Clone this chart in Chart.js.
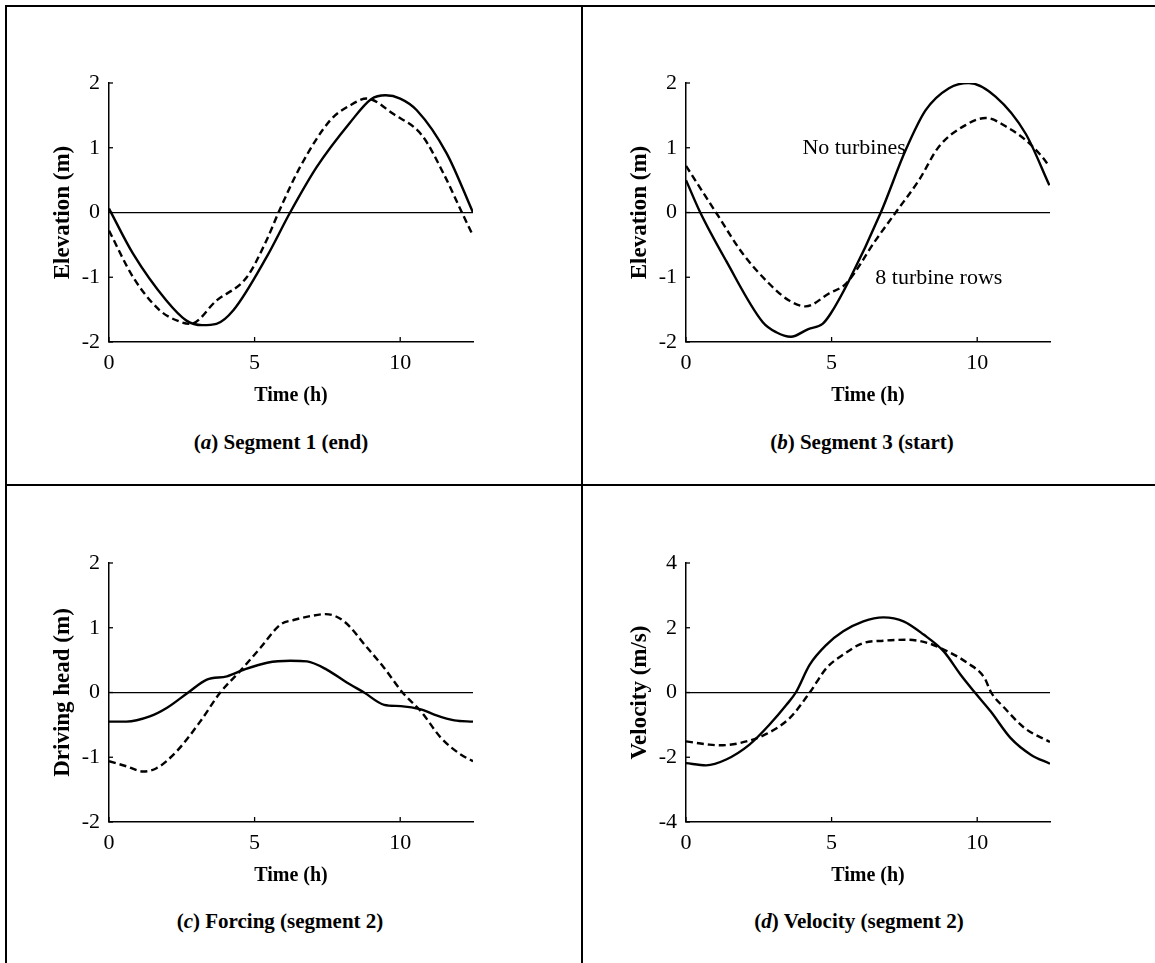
<!DOCTYPE html>
<html>
<head>
<meta charset="utf-8">
<title>Tidal elevation, forcing and velocity</title>
<script src="https://cdn.jsdelivr.net/npm/chart.js@4.4.1/dist/chart.umd.min.js"></script>
<style>
  html, body { margin: 0; padding: 0; background: #fff; }
  body { width: 1155px; height: 963px; position: relative; overflow: hidden; font-family: "Liberation Serif", "Times New Roman", serif; }
  .rule { position: absolute; background: #000; }
  .panel { position: absolute; }
  .cap { position: absolute; transform: translate(-50%, -50%); font: bold 21px "Liberation Serif", "Times New Roman", serif; white-space: nowrap; line-height: 1; color: #000; }
</style>
</head>
<body>
<!-- frame and panel dividers -->
<div class="rule" style="left:5px; top:5px; width:1150px; height:2px;"></div>
<div class="rule" style="left:5px; top:5px; width:2px; height:958px;"></div>
<div class="rule" style="left:581px; top:5px; width:2px; height:958px;"></div>
<div class="rule" style="left:5px; top:484px; width:1150px; height:2px;"></div>

<div class="panel" style="left:10px; top:40px;"><canvas id="chartA" width="490" height="368"></canvas></div>
<div class="panel" style="left:587px; top:40px;"><canvas id="chartB" width="490" height="368"></canvas></div>
<div class="panel" style="left:10px; top:520px;"><canvas id="chartC" width="490" height="368"></canvas></div>
<div class="panel" style="left:587px; top:520px;"><canvas id="chartD" width="490" height="368"></canvas></div>

<div class="cap" style="left:281px; top:442px;">(<i>a</i>) Segment 1 (end)</div>
<div class="cap" style="left:862px; top:442px;">(<i>b</i>) Segment 3 (start)</div>
<div class="cap" style="left:280px; top:921px;">(<i>c</i>) Forcing (segment 2)</div>
<div class="cap" style="left:859px; top:921px;">(<i>d</i>) Velocity (segment 2)</div>

<script>
// Axis ticks
const timeTicks = [0, 5, 10];
const elevTicks = [-2, -1, 0, 1, 2];
const velTicks = [-4, -2, 0, 2, 4];

// (a) Segment 1 (end): elevation, no turbines (solid) and 8 turbine rows (dashed)
const aSolidT = [0, 0.83, 1.97, 2.66, 3.2, 3.69, 4.27, 5.41, 6.22, 7.13, 8.28, 9.0, 9.5, 10.0, 10.57, 11.6, 12.5];
const aSolid  = [0.06, -0.64, -1.36, -1.67, -1.74, -1.72, -1.51, -0.69, 0, 0.70, 1.39, 1.75, 1.81, 1.76, 1.58, 0.91, 0];
const aDashT  = [0, 0.83, 1.74, 2.4, 2.8, 3.69, 4.73, 5.41, 5.82, 6.56, 7.59, 8.3, 8.85, 9.77, 10.75, 11.49, 12.12, 12.5];
const aDash   = [-0.28, -1.0, -1.51, -1.68, -1.72, -1.36, -1.0, -0.43, 0, 0.70, 1.42, 1.66, 1.76, 1.52, 1.19, 0.60, 0, -0.36];

// (b) Segment 3 (start): elevation
const bSolidT = [0, 0.49, 1.37, 2.63, 3.1, 3.6, 4.2, 4.69, 4.97, 5.6, 6.69, 7.54, 8.23, 9.03, 9.71, 10.63, 11.66, 12.48];
const bSolid  = [0.50, 0, -0.74, -1.69, -1.85, -1.92, -1.80, -1.72, -1.56, -1.05, 0, 0.96, 1.58, 1.92, 2.0, 1.79, 1.22, 0.42];
const bDashT  = [0, 1.03, 1.94, 2.86, 3.54, 4.11, 4.91, 5.49, 6.51, 7.2, 8.0, 8.69, 9.6, 10.29, 11.09, 11.66, 12.23, 12.48];
const bDash   = [0.72, 0, -0.63, -1.10, -1.36, -1.45, -1.25, -1.10, -0.43, 0, 0.50, 1.02, 1.35, 1.46, 1.30, 1.12, 0.86, 0.71];

// (c) Forcing (segment 2): driving head
const cSolidT = [0, 0.6, 1.4, 1.98, 2.72, 3.36, 4.05, 4.62, 5.43, 6.23, 6.8, 7.49, 8.18, 8.76, 9.45, 10.02, 10.71, 11.17, 11.86, 12.5];
const cSolid  = [-0.45, -0.45, -0.37, -0.24, 0, 0.20, 0.25, 0.35, 0.46, 0.49, 0.48, 0.35, 0.15, 0, -0.19, -0.21, -0.26, -0.34, -0.43, -0.45];
const cDashT  = [0, 0.6, 1.17, 1.63, 2.32, 3.13, 3.82, 4.5, 5.2, 5.89, 6.34, 6.92, 7.44, 8.07, 8.87, 9.45, 10.08, 10.71, 11.4, 12.09, 12.5];
const cDash   = [-1.06, -1.14, -1.22, -1.17, -0.91, -0.45, 0, 0.33, 0.69, 1.05, 1.12, 1.18, 1.21, 1.10, 0.69, 0.38, 0, -0.29, -0.70, -0.96, -1.06];

// (d) Velocity (segment 2)
const dSolidT = [0, 0.69, 1.38, 2.18, 2.87, 3.45, 3.77, 4.25, 4.83, 5.4, 6.09, 6.78, 7.47, 8.16, 8.85, 9.43, 9.92, 10.46, 11.15, 11.84, 12.5];
const dSolid  = [-2.18, -2.25, -2.07, -1.61, -0.99, -0.38, 0, 0.86, 1.48, 1.89, 2.20, 2.32, 2.20, 1.79, 1.27, 0.55, 0, -0.58, -1.41, -1.92, -2.20];
const dDashT  = [0, 0.8, 1.15, 1.86, 2.76, 3.56, 4.25, 4.83, 5.4, 6.09, 6.78, 7.59, 8.3, 8.87, 9.67, 10.25, 10.48, 10.94, 11.63, 12.5];
const dDash   = [-1.51, -1.61, -1.63, -1.56, -1.28, -0.79, 0, 0.76, 1.17, 1.53, 1.60, 1.63, 1.53, 1.32, 0.91, 0.45, 0, -0.48, -1.10, -1.53];

// Curve labels in panel (b): [text, time, value]
const bNotes = [["No turbines", 4.0, 1.0], ["8 turbine rows", 6.5, -1.02]];

const SERIF = '"Liberation Serif", "Times New Roman", serif';

function pairs(t, v) { return t.map((x, i) => ({ x: x, y: v[i] })); }

// short inward tick marks on both axes
const innerTicks = {
  id: 'innerTicks',
  afterDatasetsDraw(chart) {
    const { ctx, chartArea: a, scales: { x, y } } = chart;
    ctx.save();
    ctx.strokeStyle = '#000';
    ctx.lineWidth = 1.3;
    x.ticks.forEach(t => {
      const px = x.getPixelForValue(t.value);
      ctx.beginPath(); ctx.moveTo(px, a.bottom); ctx.lineTo(px, a.bottom - 5); ctx.stroke();
    });
    y.ticks.forEach(t => {
      const py = y.getPixelForValue(t.value);
      ctx.beginPath(); ctx.moveTo(a.left, py); ctx.lineTo(a.left + 4, py); ctx.stroke();
    });
    ctx.restore();
  }
};

// text labels placed at data coordinates
const curveNotes = {
  id: 'curveNotes',
  afterDatasetsDraw(chart, args, opts) {
    const notes = opts.notes || [];
    const { ctx, scales: { x, y } } = chart;
    ctx.save();
    ctx.fillStyle = '#000';
    ctx.font = '22px ' + SERIF;
    ctx.textAlign = 'left';
    ctx.textBaseline = 'middle';
    notes.forEach(n => ctx.fillText(n[0], x.getPixelForValue(n[1]), y.getPixelForValue(n[2])));
    ctx.restore();
  }
};

function makeChart(id, solidT, solid, dashT, dash, yTicks, yTitle, notes) {
  const yMin = yTicks[0], yMax = yTicks[yTicks.length - 1];
  return new Chart(document.getElementById(id), {
    type: 'line',
    data: {
      datasets: [
        { data: pairs(solidT, solid), borderColor: '#000', borderWidth: 2.4, pointRadius: 0,
          cubicInterpolationMode: 'monotone', fill: false },
        { data: pairs(dashT, dash), borderColor: '#000', borderWidth: 2.4, borderDash: [7, 4], pointRadius: 0,
          cubicInterpolationMode: 'monotone', fill: false }
      ]
    },
    options: {
      responsive: false,
      animation: false,
      devicePixelRatio: 1,
      events: [],
      layout: { padding: { left: 0, top: 43, right: 27, bottom: 0 } },
      plugins: {
        legend: { display: false },
        tooltip: { enabled: false },
        curveNotes: { notes: notes || [] }
      },
      scales: {
        x: {
          type: 'linear', min: 0, max: 12.5,
          afterBuildTicks: s => { s.ticks = timeTicks.map(v => ({ value: v })); },
          afterFit: s => { s.height = 66; },
          grid: { color: 'rgba(0,0,0,0)', drawTicks: false },
          border: { display: true, color: '#000', width: 1.5 },
          ticks: { color: '#000', padding: 8, maxRotation: 0, autoSkip: false,
                   font: { family: SERIF, size: 22 } },
          title: { display: true, text: 'Time (h)', color: '#000', padding: 0,
                   font: { family: SERIF, size: 20, weight: 'bold' } }
        },
        y: {
          type: 'linear', min: yMin, max: yMax,
          afterBuildTicks: s => { s.ticks = yTicks.map(v => ({ value: v })); },
          afterFit: s => { s.width = 99; },
          grid: { color: c => (c.tick && c.tick.value === 0) ? '#000' : 'rgba(0,0,0,0)', lineWidth: 1.2, drawTicks: false },
          border: { display: true, color: '#000', width: 1.5 },
          ticks: { color: '#000', padding: 9, font: { family: SERIF, size: 22 },
                   callback: v => String(v) },
          title: { display: true, text: yTitle, color: '#000', padding: { top: 39, bottom: 0 },
                   font: { family: SERIF, size: 23, weight: 'bold' } }
        }
      }
    },
    plugins: [innerTicks, curveNotes]
  });
}

makeChart('chartA', aSolidT, aSolid, aDashT, aDash, elevTicks, 'Elevation (m)');
makeChart('chartB', bSolidT, bSolid, bDashT, bDash, elevTicks, 'Elevation (m)', bNotes);
makeChart('chartC', cSolidT, cSolid, cDashT, cDash, elevTicks, 'Driving head (m)');
makeChart('chartD', dSolidT, dSolid, dDashT, dDash, velTicks, 'Velocity (m/s)');
</script>
</body>
</html>
